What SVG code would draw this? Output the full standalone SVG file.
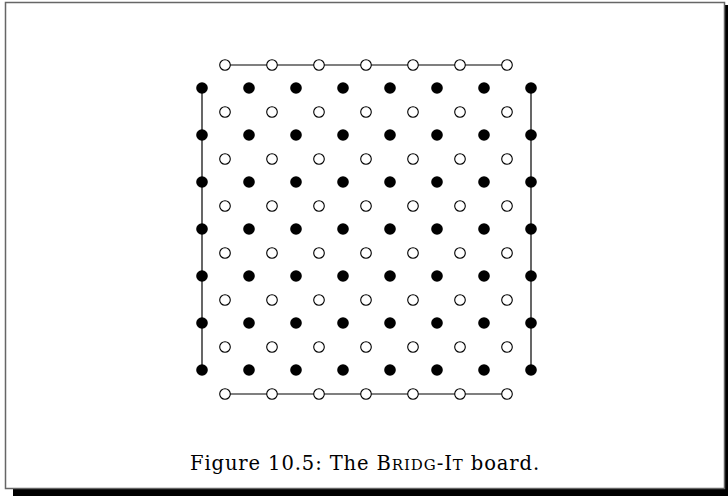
<svg xmlns="http://www.w3.org/2000/svg" width="728" height="496" viewBox="0 0 728 496">
<style>
.f{fill:#000}
.o{fill:#fff;stroke:#000;stroke-width:1.1}
.ln{stroke:#000;stroke-width:1.2;fill:none}
.cap{font-family:"DejaVu Serif","Liberation Serif",serif;font-size:19.5px;letter-spacing:0.9px;fill:#000}
.sc{font-size:15px}
</style>
<defs>
<circle id="fd" r="5.8" class="f"/>
<circle id="od" r="5.3" class="o"/>
</defs>
<rect x="0" y="0" width="728" height="496" fill="#fff"/>
<rect x="13" y="489" width="715" height="7" fill="#000"/>
<rect x="725" y="5" width="3" height="491" fill="#000"/>
<rect x="5.5" y="2.5" width="719" height="486" fill="#fff" stroke="#666" stroke-width="1.5"/>
<g id="connectors">
<line class="ln" x1="225" y1="65" x2="507" y2="65"/>
<line class="ln" x1="225" y1="394" x2="507" y2="394"/>
<line class="ln" x1="202" y1="88" x2="202" y2="370" stroke="#555"/>
<line class="ln" x1="531" y1="88" x2="531" y2="370" stroke="#555"/>
</g>
<g id="black-dots">
<use href="#fd" x="202" y="88"/><use href="#fd" x="249" y="88"/><use href="#fd" x="296" y="88"/><use href="#fd" x="343" y="88"/><use href="#fd" x="390" y="88"/><use href="#fd" x="437" y="88"/><use href="#fd" x="484" y="88"/><use href="#fd" x="531" y="88"/>
<use href="#fd" x="202" y="135"/><use href="#fd" x="249" y="135"/><use href="#fd" x="296" y="135"/><use href="#fd" x="343" y="135"/><use href="#fd" x="390" y="135"/><use href="#fd" x="437" y="135"/><use href="#fd" x="484" y="135"/><use href="#fd" x="531" y="135"/>
<use href="#fd" x="202" y="182"/><use href="#fd" x="249" y="182"/><use href="#fd" x="296" y="182"/><use href="#fd" x="343" y="182"/><use href="#fd" x="390" y="182"/><use href="#fd" x="437" y="182"/><use href="#fd" x="484" y="182"/><use href="#fd" x="531" y="182"/>
<use href="#fd" x="202" y="229"/><use href="#fd" x="249" y="229"/><use href="#fd" x="296" y="229"/><use href="#fd" x="343" y="229"/><use href="#fd" x="390" y="229"/><use href="#fd" x="437" y="229"/><use href="#fd" x="484" y="229"/><use href="#fd" x="531" y="229"/>
<use href="#fd" x="202" y="276"/><use href="#fd" x="249" y="276"/><use href="#fd" x="296" y="276"/><use href="#fd" x="343" y="276"/><use href="#fd" x="390" y="276"/><use href="#fd" x="437" y="276"/><use href="#fd" x="484" y="276"/><use href="#fd" x="531" y="276"/>
<use href="#fd" x="202" y="323"/><use href="#fd" x="249" y="323"/><use href="#fd" x="296" y="323"/><use href="#fd" x="343" y="323"/><use href="#fd" x="390" y="323"/><use href="#fd" x="437" y="323"/><use href="#fd" x="484" y="323"/><use href="#fd" x="531" y="323"/>
<use href="#fd" x="202" y="370"/><use href="#fd" x="249" y="370"/><use href="#fd" x="296" y="370"/><use href="#fd" x="343" y="370"/><use href="#fd" x="390" y="370"/><use href="#fd" x="437" y="370"/><use href="#fd" x="484" y="370"/><use href="#fd" x="531" y="370"/>
</g>
<g id="white-dots">
<use href="#od" x="225" y="65"/><use href="#od" x="272" y="65"/><use href="#od" x="319" y="65"/><use href="#od" x="366" y="65"/><use href="#od" x="413" y="65"/><use href="#od" x="460" y="65"/><use href="#od" x="507" y="65"/>
<use href="#od" x="225" y="112"/><use href="#od" x="272" y="112"/><use href="#od" x="319" y="112"/><use href="#od" x="366" y="112"/><use href="#od" x="413" y="112"/><use href="#od" x="460" y="112"/><use href="#od" x="507" y="112"/>
<use href="#od" x="225" y="159"/><use href="#od" x="272" y="159"/><use href="#od" x="319" y="159"/><use href="#od" x="366" y="159"/><use href="#od" x="413" y="159"/><use href="#od" x="460" y="159"/><use href="#od" x="507" y="159"/>
<use href="#od" x="225" y="206"/><use href="#od" x="272" y="206"/><use href="#od" x="319" y="206"/><use href="#od" x="366" y="206"/><use href="#od" x="413" y="206"/><use href="#od" x="460" y="206"/><use href="#od" x="507" y="206"/>
<use href="#od" x="225" y="253"/><use href="#od" x="272" y="253"/><use href="#od" x="319" y="253"/><use href="#od" x="366" y="253"/><use href="#od" x="413" y="253"/><use href="#od" x="460" y="253"/><use href="#od" x="507" y="253"/>
<use href="#od" x="225" y="300"/><use href="#od" x="272" y="300"/><use href="#od" x="319" y="300"/><use href="#od" x="366" y="300"/><use href="#od" x="413" y="300"/><use href="#od" x="460" y="300"/><use href="#od" x="507" y="300"/>
<use href="#od" x="225" y="347"/><use href="#od" x="272" y="347"/><use href="#od" x="319" y="347"/><use href="#od" x="366" y="347"/><use href="#od" x="413" y="347"/><use href="#od" x="460" y="347"/><use href="#od" x="507" y="347"/>
<use href="#od" x="225" y="394"/><use href="#od" x="272" y="394"/><use href="#od" x="319" y="394"/><use href="#od" x="366" y="394"/><use href="#od" x="413" y="394"/><use href="#od" x="460" y="394"/><use href="#od" x="507" y="394"/>
</g>
<text class="cap" x="365" y="470" text-anchor="middle">Figure 10.5: The B<tspan class="sc">RIDG</tspan>-I<tspan class="sc">T</tspan> board.</text>
</svg>
